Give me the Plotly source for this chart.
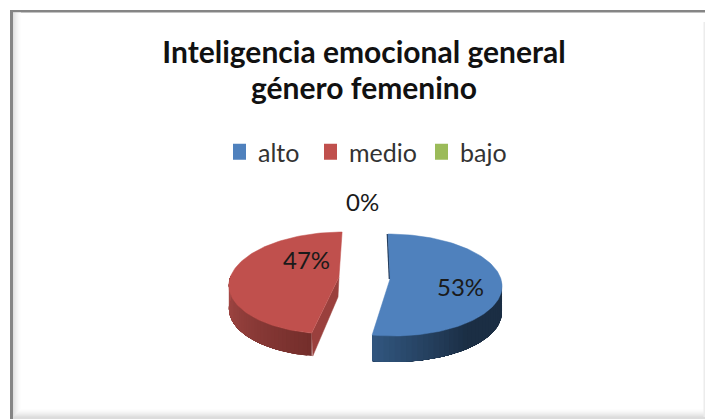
import numpy as np
import plotly.graph_objects as go

# Data
categories = ["alto", "medio", "bajo"]
values = [53, 47, 0]
title_lines = ["Inteligencia emocional general", "género femenino"]

# Style
top_colors = ["#4f81bd", "#c0504d", "#9bbb59"]
W, H = 705, 419
FONT = "Lato"
TEXT = "#1a1a1a"

# per-slice drawing geometry in picture pixels: exploded 3D look
geom = {
    "alto": dict(cx=390.5, cy=285, rx=111.5, ry=51, k=0.05, apex=(390, 279), depth=26,
                 side0=(0x1b, 0x2e, 0x44), side1=(0x32, 0x57, 0x80), hidden_from=85),
    "medio": dict(cx=337, cy=283, rx=108, ry=51, k=-0.1, apex=(339, 277), depth=23,
                  side0=(0xa8, 0x4b, 0x48), side1=(0x74, 0x2e, 0x2b), hidden_from=278),
}

fracs = np.array(values, dtype=float) / sum(values)
edges = np.concatenate([[0], np.cumsum(fracs)]) * 2 * np.pi


def ell(g, t):
    y = g["cy"] - g["ry"] * np.cos(t)
    x = g["cx"] + g["rx"] * np.sin(t) + g["k"] * (y - g["cy"])
    return x, y


fig = go.Figure()

for i, name in enumerate(categories):
    a0, a1 = edges[i], edges[i + 1]
    if a1 <= a0:
        continue
    g = geom[name]
    # side strips, each overlapping the next so no seams show
    if name == "alto":
        s0, s1 = np.radians(g["hidden_from"]), a1
    else:
        s0, s1 = a0, np.radians(g["hidden_from"])
    n = 36
    ts = np.linspace(s0, s1, n + 1)
    for j in range(n):
        x, y = ell(g, np.linspace(ts[j], s1, 4 + (n - j)))
        f = (j + 0.5) / n
        if name == "alto":
            f2 = min(1.0, max(0.0, (f - 0.5) / 0.5))
            c = [g["side0"][m] + (g["side1"][m] - g["side0"][m]) * f2 for m in range(3)]
        else:
            f2 = 1 - f
            c = [g["side0"][m] + (g["side1"][m] - g["side0"][m]) * f2 for m in range(3)]
        col = "rgb(%d,%d,%d)" % tuple(c)
        fig.add_trace(go.Scatter(
            x=np.concatenate([x, x[::-1]]),
            y=np.concatenate([y, y[::-1] + g["depth"]]),
            fill="toself", fillcolor=col, mode="lines", line=dict(width=0),
            hoverinfo="skip", showlegend=False))
    # cut faces
    cx0, cy0 = ell(g, a0 if name == "medio" else a1)
    ax, ay = g["apex"]
    if name == "medio":
        fig.add_trace(go.Scatter(
            x=[ax, ax - 1, cx0 + 1, cx0], y=[ay, ay + 20, cy0 + g["depth"], cy0],
            fill="toself", fillcolor="#9a403d", mode="lines", line=dict(color="#9a403d", width=0.5),
            hoverinfo="skip", showlegend=False))
    else:
        tx, ty = ell(g, a0)
        fig.add_trace(go.Scatter(
            x=[tx - 0.5, ax - 0.5], y=[ty, ay], mode="lines", line=dict(color="#1f3553", width=1.6),
            hoverinfo="skip", showlegend=False))
    # top face
    x, y = ell(g, np.linspace(a0, a1, 120))
    fig.add_trace(go.Scatter(
        x=np.concatenate([[ax], x, [ax]]), y=np.concatenate([[ay], y, [ay]]),
        fill="toself", fillcolor=top_colors[i], mode="lines",
        line=dict(color=top_colors[i], width=0.5), hoverinfo="skip", showlegend=False))

# legend entries: one small legend per category so each can sit where the reference has it
legend_ids = ["legend", "legend2", "legend3"]
legend_left = [233, 324, 435]
for i, name in enumerate(categories):
    fig.add_trace(go.Scatter(
        x=[None], y=[None], mode="markers", name=name, legend=legend_ids[i],
        marker=dict(symbol="square", size=17, color=top_colors[i])))

legend_layout = {
    lid: dict(x=lx / W, xanchor="left", y=1 - 152 / H, yanchor="middle",
              font=dict(family=FONT, size=25, color="#333333"), bgcolor="rgba(0,0,0,0)",
              itemwidth=30, indentation=-15, itemclick=False, itemdoubleclick=False,
              borderwidth=0)
    for lid, lx in zip(legend_ids, legend_left)
}

label_pos = {"alto": (460, 286), "medio": (306, 259.5), "bajo": (362, 201.5)}
for i, name in enumerate(categories):
    px, py = label_pos[name]
    fig.add_annotation(x=px, y=py, xref="x", yref="y", text=f"{fracs[i]:.0%}", showarrow=False,
                       font=dict(family=FONT, size=24, color=TEXT))

# chart frame
frame = "#858585"
shapes = [
    dict(type="rect", xref="x", yref="y", x0=10, x1=13, y0=10, y1=419, fillcolor=frame, line_width=0, layer="below"),
    dict(type="rect", xref="x", yref="y", x0=10, x1=705, y0=10, y1=12.5, fillcolor=frame, line_width=0, layer="below"),
    dict(type="rect", xref="x", yref="y", x0=13, x1=705, y0=417, y1=419, fillcolor="#dcdcdc", line_width=0, layer="below"),
]
fade = ["#e0e0e0", "#e6e6e6", "#ebebeb", "#f0f0f0", "#f4f4f4", "#f8f8f8", "#fbfbfb", "#fdfdfd"]
for d, c in enumerate(fade):
    shapes.append(dict(type="rect", xref="x", yref="y", x0=13 + d, x1=14 + d, y0=12.5, y1=417 - d,
                       fillcolor=c, line_width=0, layer="below"))
    shapes.append(dict(type="rect", xref="x", yref="y", x0=13 + d, x1=705, y0=416 - d, y1=417 - d,
                       fillcolor=c, line_width=0, layer="below"))
shapes.append(dict(type="rect", xref="x", yref="y", x0=703.5, x1=705, y0=22, y1=417,
                   fillcolor="#ececec", line_width=0, layer="below"))

fig.update_layout(
    width=W, height=H, margin=dict(l=0, r=0, t=0, b=0),
    paper_bgcolor="white", plot_bgcolor="white",
    xaxis=dict(range=[0, W], visible=False, fixedrange=True),
    yaxis=dict(range=[H, 0], visible=False, fixedrange=True),
    title=dict(
        text="<br>".join(f'<span style="font-size:30px">{t}</span>' for t in title_lines),
        font=dict(family=FONT, size=28, color="#111111", weight="bold"),
        x=364 / W, xanchor="center", y=1 - 63 / H, yanchor="top", xref="paper", yref="paper", pad=dict(t=0)),
    shapes=shapes,
    **legend_layout,
)

fig.write_html("out.html", config=dict(displayModeBar=False),
               post_script="document.body.style.margin='0';")
